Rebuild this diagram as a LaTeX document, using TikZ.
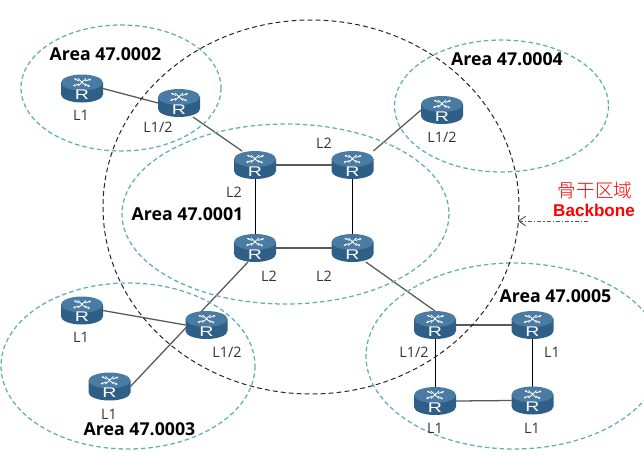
\documentclass[tikz,border=0pt]{standalone}
\usepackage{fontspec}
\setmainfont{Open Sans}
\newfontfamily\arialfont{Liberation Sans}
\newfontfamily\cjkfont{Noto Sans CJK SC Light}
\usetikzlibrary{arrows.meta,backgrounds}
\definecolor{areateal}{HTML}{5FB0B5}
\definecolor{rbody}{HTML}{2F5F87}
\definecolor{rtop}{HTML}{4A7BA3}
\tikzset{
  x=0.75pt,y=-0.75pt,
  area/.style={draw=areateal,line width=0.95pt,dash pattern=on 3.4pt off 2.2pt},
  bone/.style={draw=black!85,line width=0.75pt,dash pattern=on 3.6pt off 2.4pt},
  routerbox/.style={inner sep=0pt,minimum width=31pt,minimum height=20.6pt},
  link/.style={draw=black!65,line width=0.95pt},
  vlink/.style={draw=black,line width=0.7pt},
  lvl/.style={font=\fontsize{10.8pt}{12pt}\selectfont,text=black!80,inner sep=0pt},
  areatxt/.style={font=\bfseries\fontsize{13.3pt}{15pt}\selectfont,text=black,inner sep=0pt},
}
\newcommand{\router}[3]{%
  \node[routerbox] (#1) at (#2,#3) {};
  \begin{scope}[shift={(#2,#3)}]
    \fill[rbody] (-21,-6) -- (-21,6) arc[x radius=21,y radius=8,start angle=180,end angle=0] -- (21,-6) -- cycle;
    \fill[rtop] (0,-6) ellipse[x radius=21,y radius=8];
    \draw[white,line width=0.65pt,-{Stealth[length=1.8pt,width=1.8pt]}] (-3,-7.5) -- (-8,-10);
    \draw[white,line width=0.65pt,-{Stealth[length=1.8pt,width=1.8pt]}] (-3,-4.5) -- (-9,-2.5);
    \draw[white,line width=0.65pt,-{Stealth[length=1.8pt,width=1.8pt]}] (3,-7.5) -- (9,-9.5);
    \draw[white,line width=0.65pt,-{Stealth[length=1.8pt,width=1.8pt]}] (3,-4.5) -- (8,-2);
    \draw[white,line width=0.65pt] (-4,-10) -- (4,-2.5) (4,-10) -- (-4,-2.5);
    \node[text=white,font=\arialfont\fontsize{10.5pt}{10pt}\selectfont,inner sep=0pt] at (0,6.5) {\scalebox{1.4}[1]{R}};
  \end{scope}}
\begin{document}
\begin{tikzpicture}
\useasboundingbox (0,0) rectangle (644,455);
\begin{scope}
\clip (0,0) rectangle (644,455);
% areas
\draw[area] (121,88) ellipse[x radius=100,y radius=63];
\draw[area] (501.5,106) ellipse[x radius=107,y radius=66];
\draw[area] (285.5,214) ellipse[x radius=163.5,y radius=90];
\draw[area] (128,366) ellipse[x radius=127,y radius=83];
\draw[area] (514,356) ellipse[x radius=148,y radius=93];
\draw[bone] (311,207) ellipse[x radius=208,y radius=187];
\end{scope}
\coordinate (bbedge) at (518,221);
\coordinate (bbtail) at (588,221);
% routers
\router{a}{82}{88.5}
\router{b}{179}{103}
\router{c}{255}{165}
\router{d}{352.5}{165}
\router{e}{255}{248}
\router{f}{352.5}{248}
\router{g}{442}{110}
\router{h}{82}{310.5}
\router{i}{206.5}{325}
\router{j}{109.5}{386.5}
\router{k}{435}{325}
\router{l}{532.5}{325}
\router{m}{435}{401}
\router{n}{532.5}{400.5}
% links
\begin{scope}[on background layer]
\draw[link] (a.east) -- (b.west);
\draw[link] ([xshift=10.5pt]b.south) -- ([xshift=-9.75pt]c.north);
\draw[link] (c) -- (d);
\draw[vlink] (c) -- (e);
\draw[vlink] (d) -- (f);
\draw[link] (e) -- (f);
\draw[link] (d.north east) -- (g.west);
\draw[link] ([xshift=-5.25pt]e.south) -- (j.east);
\draw[link] (h.east) -- (i.west);
\draw[link] ([xshift=10pt]f.south) -- (k.north);
\draw[link] (k) -- (l);
\draw[vlink] (k) -- (m);
\draw[vlink] (l) -- (n);
\draw[link] (m.east) -- (n.west);
\end{scope}
\draw[draw=black!65,line width=0.75pt,dash pattern=on 3pt off 1.5pt on 1pt off 1.5pt,-{Straight Barb[length=5pt,width=7pt]}] (bbtail) -- (bbedge);
% labels
\node[areatxt] (ta) at (105.5,54.5) {Area 47.0002};
\node[areatxt] (tb) at (507,59) {Area 47.0004};
\node[areatxt] (tc) at (187.5,214) {Area 47.0001};
\node[areatxt] (td) at (139.5,429) {Area 47.0003};
\node[areatxt] (te) at (555.5,296.5) {Area 47.0005};
\node[lvl] (la) at (81,115) {L1};
\node[lvl] (lb) at (158,127) {L1/2};
\node[lvl] (lc) at (234,192) {L2};
\node[lvl] (ld) at (324,143) {L2};
\node[lvl] (le) at (442,137) {L1/2};
\node[lvl] (lf) at (269,276) {L2};
\node[lvl] (lg) at (324,276) {L2};
\node[lvl] (lh) at (81,337) {L1};
\node[lvl] (li) at (227,352) {L1/2};
\node[lvl] (lj) at (109,414) {L1};
\node[lvl] (lk) at (414,352.5) {L1/2};
\node[lvl] (ll) at (552,352) {L1};
\node[lvl] (lm) at (435,428) {L1};
\node[lvl] (ln) at (532,428) {L1};
\node[inner sep=0pt,text=red,font=\cjkfont\fontsize{14pt}{16pt}\selectfont] (zh) at (595,190) {骨干区域};
\node[inner sep=0pt,text=red,font=\arialfont\bfseries\fontsize{12.8pt}{15pt}\selectfont] (en) at (594,210) {Backbone};
\end{tikzpicture}
\end{document}
